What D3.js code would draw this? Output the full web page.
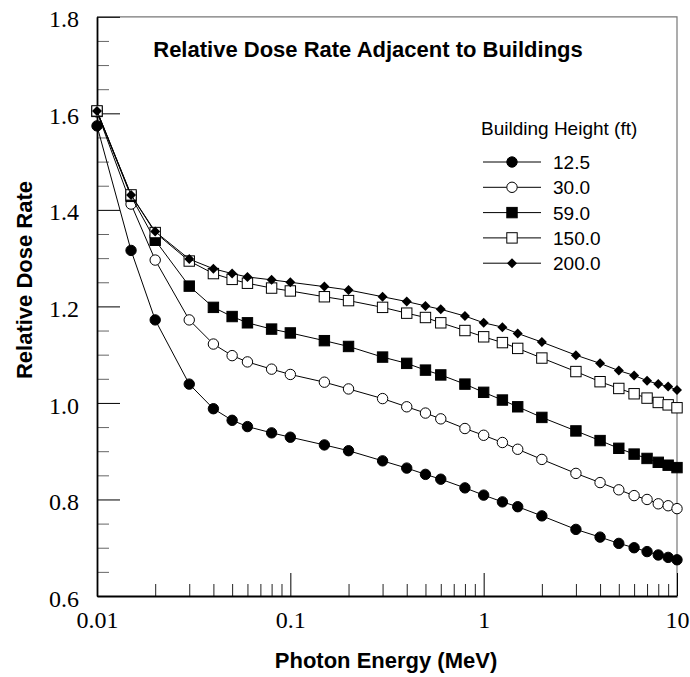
<!DOCTYPE html>
<html>
<head>
<meta charset="utf-8">
<script src="https://cdn.jsdelivr.net/npm/d3@7"></script>
<style>
  body { margin: 0; background: #fff; }
  svg { display: block; }
  .tick text { font-family: "Liberation Serif", "Times New Roman", serif; font-size: 24px; fill: #000; }
  .lab { font-family: "Liberation Sans", Arial, sans-serif; font-weight: bold; font-size: 22px; fill: #000; }
  .leg { font-family: "Liberation Sans", Arial, sans-serif; font-size: 19px; fill: #000; }
</style>
</head>
<body>
<div id="chart"></div>
<script>
// photon energies (MeV)
const energy = [0.01, 0.015, 0.02, 0.03, 0.04, 0.05, 0.06, 0.08, 0.1, 0.15, 0.2, 0.3, 0.4, 0.5, 0.6, 0.8,
                1, 1.25, 1.5, 2, 3, 4, 5, 6, 7, 8, 9, 10];

// relative dose rate for each building height
const h12_5 = [1.574, 1.316, 1.172, 1.039, 0.988, 0.964, 0.951, 0.938, 0.929, 0.913, 0.901, 0.880, 0.865, 0.852,
               0.842, 0.824, 0.809, 0.795, 0.785, 0.766, 0.738, 0.722, 0.709, 0.700, 0.692, 0.685, 0.680, 0.675];
const h30 = [1.603, 1.412, 1.296, 1.172, 1.122, 1.098, 1.085, 1.070, 1.059, 1.043, 1.029, 1.009, 0.992, 0.979,
             0.967, 0.947, 0.933, 0.918, 0.904, 0.883, 0.854, 0.835, 0.820, 0.808, 0.800, 0.791, 0.787, 0.781];
const h59 = [1.604, 1.428, 1.337, 1.242, 1.198, 1.179, 1.166, 1.153, 1.145, 1.129, 1.117, 1.095, 1.082, 1.068,
             1.058, 1.039, 1.022, 1.006, 0.992, 0.970, 0.942, 0.922, 0.906, 0.894, 0.885, 0.877, 0.871, 0.866];
const h150 = [1.605, 1.431, 1.353, 1.294, 1.268, 1.256, 1.248, 1.238, 1.232, 1.220, 1.212, 1.198, 1.186, 1.177,
              1.166, 1.150, 1.137, 1.125, 1.113, 1.093, 1.065, 1.044, 1.030, 1.019, 1.010, 1.001, 0.996, 0.990];
const h200 = [1.605, 1.431, 1.355, 1.298, 1.278, 1.268, 1.261, 1.255, 1.250, 1.241, 1.234, 1.220, 1.210, 1.201,
              1.194, 1.180, 1.166, 1.157, 1.144, 1.126, 1.099, 1.082, 1.067, 1.057, 1.046, 1.039, 1.034, 1.027];

const seriesNames = ["12.5", "30.0", "59.0", "150.0", "200.0"];
const seriesValues = [h12_5, h30, h59, h150, h200];
const markerTypes = ["circleFilled", "circleOpen", "squareFilled", "squareOpen", "diamond"];

const xTicks = [0.01, 0.1, 1, 10];
const xTickLabels = ["0.01", "0.1", "1", "10"];
const yTicks = [0.6, 0.8, 1.0, 1.2, 1.4, 1.6, 1.8];
const yTickLabels = ["0.6", "0.8", "1.0", "1.2", "1.4", "1.6", "1.8"];

const W = 690, H = 677;
const plot = { left: 97, right: 677, top: 16.8, bottom: 596 };

const svg = d3.select("#chart").append("svg")
    .attr("width", W)
    .attr("height", H);

const x = d3.scaleLog().domain([0.01, 10]).range([plot.left, plot.right]);
const y = d3.scaleLinear().domain([0.6, 1.8]).range([plot.bottom, plot.top]);

// minor ticks
const xMinor = [];
[0.01, 0.1, 1].forEach(d => { for (let k = 2; k <= 9; k++) xMinor.push(+(d * k).toFixed(3)); });
const yMinor = d3.range(0.65, 1.8, 0.05).map(v => +v.toFixed(2)).filter(v => Math.abs((v * 10) % 2) > 0.01 && !yTicks.includes(v));

// frame (top/right thin grey)
svg.append("path")
    .attr("d", `M${plot.left},${plot.top}H${plot.right}V${plot.bottom}`)
    .attr("fill", "none")
    .attr("stroke", "#777")
    .attr("stroke-width", 1.2);

// minor tick axes
svg.append("g")
    .attr("transform", `translate(${plot.left},0)`)
    .call(d3.axisLeft(y).tickValues(yMinor).tickSize(-12).tickSizeOuter(0).tickFormat(""))
    .call(g => g.select(".domain").remove())
    .call(g => g.selectAll("line").attr("stroke", "#666"));

svg.append("g")
    .attr("transform", `translate(0,${plot.bottom})`)
    .call(d3.axisBottom(x).tickValues(xMinor).tickSize(-12).tickSizeOuter(0).tickFormat(""))
    .call(g => g.select(".domain").remove())
    .call(g => g.selectAll("line").attr("stroke", "#222"));

// major axes
svg.append("g")
    .attr("transform", `translate(${plot.left},0)`)
    .call(d3.axisLeft(y).tickValues(yTicks).tickSize(-23).tickSizeOuter(0).tickPadding(18)
        .tickFormat((d, i) => yTickLabels[i]))
    .call(g => g.select(".domain").attr("stroke-width", 1.8))
    .call(g => g.selectAll(".tick text").attr("font-family", null).attr("font-size", null).attr("dy", "0.42em"));

svg.append("g")
    .attr("transform", `translate(0,${plot.bottom})`)
    .call(d3.axisBottom(x).tickValues(xTicks).tickSize(-23).tickSizeOuter(0).tickPadding(15)
        .tickFormat((d, i) => xTickLabels[i]))
    .call(g => g.select(".domain").attr("stroke-width", 1.8))
    .call(g => g.selectAll(".tick text").attr("font-family", null).attr("font-size", null));

// markers
const diamondPath = r => `M0,${-r}L${r},0L0,${r}L${-r},0Z`;
function drawMarker(sel, type) {
    if (type === "circleFilled" || type === "circleOpen") {
        sel.append("circle").attr("r", 5.2)
            .attr("fill", type === "circleFilled" ? "#000" : "#fff")
            .attr("stroke", "#000").attr("stroke-width", 1);
    } else if (type === "squareFilled" || type === "squareOpen") {
        sel.append("rect").attr("x", -5.2).attr("y", -5.2).attr("width", 10.4).attr("height", 10.4)
            .attr("fill", type === "squareFilled" ? "#000" : "#fff")
            .attr("stroke", "#000").attr("stroke-width", 1);
    } else {
        sel.append("path").attr("d", diamondPath(5)).attr("fill", "#000");
    }
}

const line = d3.line().x(d => x(d[0])).y(d => y(d[1]));

seriesValues.forEach((vals, si) => {
    const pts = energy.map((e, i) => [e, vals[i]]);
    const g = svg.append("g").attr("class", "series");
    g.append("path")
        .attr("d", line(pts))
        .attr("fill", "none")
        .attr("stroke", "#000")
        .attr("stroke-width", 1);
    g.selectAll("g.pt")
        .data(pts)
        .enter()
        .append("g")
        .attr("class", "pt")
        .attr("transform", d => `translate(${x(d[0])},${y(d[1])})`)
        .each(function() { drawMarker(d3.select(this), markerTypes[si]); });
});

// title and axis labels
svg.append("text")
    .attr("class", "lab")
    .attr("x", 368)
    .attr("y", 57)
    .attr("text-anchor", "middle")
    .text("Relative Dose Rate Adjacent to Buildings");

svg.append("text")
    .attr("class", "lab")
    .attr("x", 386)
    .attr("y", 668)
    .attr("text-anchor", "middle")
    .text("Photon Energy (MeV)");

svg.append("text")
    .attr("class", "lab")
    .attr("transform", "translate(31.5,280) rotate(-90)")
    .attr("text-anchor", "middle")
    .text("Relative Dose Rate");

// legend
const legend = svg.append("g");
legend.append("text")
    .attr("class", "leg")
    .attr("x", 481)
    .attr("y", 135)
    .text("Building Height (ft)");

seriesNames.forEach((name, i) => {
    const ry = 162 + i * 25.3;
    const row = legend.append("g");
    row.append("line")
        .attr("x1", 483).attr("x2", 541)
        .attr("y1", ry).attr("y2", ry)
        .attr("stroke", "#000").attr("stroke-width", 1);
    drawMarker(row.append("g").attr("transform", `translate(512,${ry})`), markerTypes[i]);
    row.append("text")
        .attr("class", "leg")
        .attr("x", 553)
        .attr("y", ry + 7)
        .text(name);
});
</script>
</body>
</html>
